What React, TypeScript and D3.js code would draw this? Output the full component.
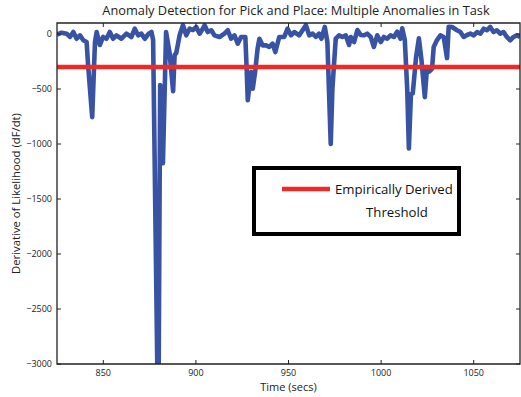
import React, { useEffect, useRef } from "react";
import * as d3 from "d3";

// time (secs) and dF/dt
const times = [
  825, 827.5, 830.2, 832, 833.8, 835.6, 837.4, 839.2, 841, 841.8, 844, 845.5, 846.4, 848.1, 849.9,
  851.7, 853.5, 855.3, 857.1, 859.8, 862.5, 865.2, 867, 868.8, 870.6, 872.4, 874.5, 876, 876.9,
  879.2, 879.9, 880.7, 881.5, 882.2, 883.9, 885.8, 887.7, 888.5, 889.4, 891.2, 893, 894.8, 896.6,
  898.4, 900.2, 902, 903.7, 904.7, 906.4, 908.3, 910, 912.7, 915.4, 917.2, 919, 920.8, 922.6, 924.4,
  926.7, 927.4, 928, 929.8, 930.7, 932.1, 933.3, 934.3, 936, 937.9, 939.6, 941.4, 942.9, 945, 947.7,
  949.5, 951.3, 953.1, 955.8, 957.6, 959.4, 961.2, 963, 964.8, 966.5, 967.8, 969.6, 971, 972.8,
  973.7, 975.5, 977.3, 979.1, 980.9, 982.7, 983.6, 985.4, 987.2, 989, 990.8, 992.5, 994.4, 996.1,
  997.9, 999.8, 1001.5, 1003.3, 1005.1, 1006.9, 1008.7, 1010.5, 1011.4, 1012.8, 1014.1, 1015,
  1016.1, 1017.1, 1018.9, 1020.4, 1021.8, 1023.6, 1024.8, 1025.8, 1027.5, 1028.4, 1030.2, 1032,
  1033.8, 1035.6, 1036.5, 1038.3, 1041, 1042.8, 1044.6, 1046.4, 1048.2, 1050, 1051.8, 1053.6,
  1055.4, 1057.1, 1058.9, 1060.7, 1062.5, 1064.3, 1066.1, 1067.9, 1069.7, 1071.5, 1073.3, 1075
];
const dfdt = [
  -5, 12, 3, -27, 18, -43, -12, -57, -73, -285, -756, -73, 18, -100, -27,
  -43, 18, -43, -12, -43, 3, -27, 48, -12, 3, -43, 3, 18, -55,
  -3080, -3080, -465, -510, -1175, 18, -173, -520, -191, -173, -12, 80, -12, 48,
  36, 64, 3, 48, 80, 18, 34, -12, -27, 3, 34, -43, -12, -88, -27,
  -27, -316, -601, -346, -498, -328, -134, -43, -103, -103, -118, -88, -164, -27, -27,
  48, -12, 18, -12, 34, 80, -12, 3, -27, 3, -43, 64, -73, -1000,
  -498, -43, -12, -27, -12, -100, -27, -73, 36, -9, -12, 3, -27, -118,
  -12, -73, -27, -43, -12, -27, 21, -43, 52, -55, -498, -1040,
  -546, -540, -207, -39, -237, -574, -300, -343, -316, -118, -55, -12,
  -27, -219, 66, 64, 34, 18, -27, -9, 3, -12, 18, 3,
  48, 34, 64, 18, 34, 3, 18, -27, -57, -27, -12, -27
];
const threshold = -300;
const xTicks = [850, 900, 950, 1000, 1050];
const yTicks = [0, -500, -1000, -1500, -2000, -2500, -3000];

const title = "Anomaly Detection for Pick and Place: Multiple Anomalies in Task";
const xLabel = "Time (secs)";
const yLabel = "Derivative of Likelihood (dF/dt)";
const legendLines = ["Empirically Derived", "Threshold"];

export default function App() {
  const ref = useRef<SVGSVGElement>(null);

  useEffect(() => {
    const svg = d3.select(ref.current);
    svg.selectAll("*").remove();
    const W = 521, H = 397;
    const m = { left: 57, top: 23, right: 1, bottom: 33 };
    const iw = W - m.left - m.right, ih = H - m.top - m.bottom;
    const font = "'Open Sans', sans-serif";

    const x = d3.scaleLinear().domain([825, 1075]).range([0, iw]);
    const y = d3.scaleLinear().domain([-3000, 100]).range([ih, 0]);

    svg.append("defs").append("clipPath").attr("id", "plotclip")
      .append("rect").attr("width", iw).attr("height", ih);

    const g = svg.append("g").attr("transform", `translate(${m.left},${m.top})`);

    const data = times.map((t, i) => [t, dfdt[i]] as [number, number]);
    const line = d3.line<[number, number]>().x(d => x(d[0])).y(d => y(d[1]));

    const plot = g.append("g").attr("clip-path", "url(#plotclip)");
    plot.append("path").datum(data)
      .attr("d", line)
      .attr("fill", "none")
      .attr("stroke", "#3953a4")
      .attr("stroke-width", 4.6)
      .attr("stroke-linejoin", "round");

    plot.append("line")
      .attr("x1", 0).attr("x2", iw)
      .attr("y1", y(threshold)).attr("y2", y(threshold))
      .attr("stroke", "#ee2a26").attr("stroke-width", 4.5);

    // box with inward ticks
    const axisColor = "#222";
    g.append("path")
      .attr("d", `M0,0H${iw}V${ih}H0Z`)
      .attr("fill", "none").attr("stroke", axisColor).attr("stroke-width", 1.3);

    const tl = 4;
    xTicks.forEach(t => {
      g.append("line").attr("x1", x(t)).attr("x2", x(t)).attr("y1", ih).attr("y2", ih - tl)
        .attr("stroke", axisColor).attr("stroke-width", 1);
      g.append("line").attr("x1", x(t)).attr("x2", x(t)).attr("y1", 0).attr("y2", tl)
        .attr("stroke", axisColor).attr("stroke-width", 1);
      g.append("text").attr("x", x(t)).attr("y", ih + 12)
        .attr("text-anchor", "middle").attr("font-family", font).attr("font-size", 9)
        .attr("fill", "#222").text(t);
    });
    yTicks.forEach(v => {
      g.append("line").attr("x1", 0).attr("x2", tl).attr("y1", y(v)).attr("y2", y(v))
        .attr("stroke", axisColor).attr("stroke-width", 1);
      g.append("line").attr("x1", iw).attr("x2", iw - tl).attr("y1", y(v)).attr("y2", y(v))
        .attr("stroke", axisColor).attr("stroke-width", 1);
      g.append("text").attr("x", -5).attr("y", y(v) + 3)
        .attr("text-anchor", "end").attr("font-family", font).attr("font-size", 9)
        .attr("fill", "#222").text(v === 0 ? "0" : "\u2212" + Math.abs(v));
    });

    svg.append("text").attr("x", 296).attr("y", 15)
      .attr("text-anchor", "middle").attr("font-family", font).attr("font-size", 12.8)
      .attr("fill", "#222").text(title);

    svg.append("text").attr("x", m.left + x(950)).attr("y", 391)
      .attr("text-anchor", "middle").attr("font-family", font).attr("font-size", 11)
      .attr("fill", "#222").text(xLabel);

    svg.append("text").attr("transform", `translate(20,${m.top + y(-1450)}) rotate(-90)`)
      .attr("text-anchor", "middle").attr("font-family", font).attr("font-size", 11.3)
      .attr("fill", "#222").text(yLabel);

    // legend
    const lg = svg.append("g").attr("transform", "translate(254,168)");
    lg.append("rect").attr("width", 205).attr("height", 66)
      .attr("fill", "#fff").attr("stroke", "#000").attr("stroke-width", 4);
    lg.append("line").attr("x1", 28).attr("x2", 76).attr("y1", 21).attr("y2", 21)
      .attr("stroke", "#ee2a26").attr("stroke-width", 4.5);
    lg.append("text").attr("x", 81).attr("y", 26)
      .attr("font-family", font).attr("font-size", 13.2).attr("fill", "#111").text(legendLines[0]);
    lg.append("text").attr("x", 143).attr("y", 49).attr("text-anchor", "middle")
      .attr("font-family", font).attr("font-size", 13.2).attr("fill", "#111").text(legendLines[1]);
  }, []);

  return (
    <svg ref={ref} width={521} height={397}
      style={{ position: "absolute", left: 0, top: 0, background: "#fff" }} />
  );
}
